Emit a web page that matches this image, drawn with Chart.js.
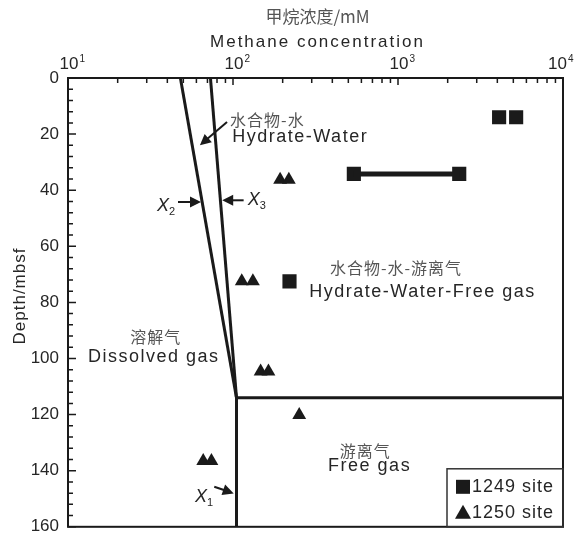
<!DOCTYPE html>
<html>
<head>
<meta charset="utf-8">
<script src="https://cdn.jsdelivr.net/npm/chart.js@4/dist/chart.umd.min.js"></script>
<style>
  html, body { margin: 0; padding: 0; background: #fff; }
  canvas { display: block; }
</style>
</head>
<body>
<canvas id="chart" width="576" height="546"></canvas>
<script>
(function(){
    'use strict';

    // data (concentration in mM, depth in mbsf)
    const site1249Conc = [4100, 5200, 540, 2350, 220];
    const site1249Depth = [14, 14, 34.2, 34.2, 72.5];
    const site1250Conc = [193, 218, 113, 132, 147, 164, 252, 66, 74];
    const site1250Depth = [36.3, 36.3, 72.5, 72.5, 104.6, 104.6, 120.1, 136.5, 136.5];
    const rangeConc = [540, 2350];
    const rangeDepth = [34.2, 34.2];

    // phase boundaries
    const x2Conc = [48, 105];
    const x2Depth = [0, 114];
    const x3Conc = [73, 105];
    const x3Depth = [0, 114];
    const x1Conc = [105, 105];
    const x1Depth = [114, 160];
    const baseConc = [105, 10000];
    const baseDepth = [114, 114];

    const xTicks = [10, 100, 1000, 10000];
    const xTickExp = ['1', '2', '3', '4'];
    const yMax = 160;

    const ink = '#1a1a1a';
    const textColor = '#262626';
    const cjkColor = '#555';
    const latin = '"Liberation Sans", Arial, sans-serif';
    const cjk = '"Noto Sans CJK SC", sans-serif';

    function pts(xs, ys){
        return xs.map(function(x, i){ return {x: x, y: ys[i]}; });
    }

    // annotation text anchored in data coordinates (left edge, middle)
    const notes = [
        {text: '水合物-水', conc: 96, depth: 15.0, cjk: true},
        {text: 'Hydrate-Water', conc: 99, depth: 20.9},
        {text: '水合物-水-游离气', conc: 387, depth: 67.6, cjk: true},
        {text: 'Hydrate-Water-Free gas', conc: 290, depth: 76.3},
        {text: '溶解气', conc: 23.8, depth: 92.4, cjk: true},
        {text: 'Dissolved gas', conc: 13.2, depth: 99.3},
        {text: '游离气', conc: 444, depth: 133.1, cjk: true},
        {text: 'Free gas', conc: 377, depth: 138.4}
    ];
    const arrows = [
        [92, 15.7, 63, 24.0],
        [46.4, 44.2, 64, 44.2],
        [116, 43.6, 86, 43.6],
        [77, 145.7, 101, 148.1]
    ];
    const xLabels = [
        {sub: '2', conc: 34.6, depth: 45.5},
        {sub: '3', conc: 123, depth: 43.6},
        {sub: '1', conc: 58.9, depth: 149.2}
    ];

    function arrow(ctx, x1, y1, x2, y2){
        const a = Math.atan2(y2 - y1, x2 - x1);
        const h = 11;
        ctx.beginPath();
        ctx.moveTo(x1, y1);
        ctx.lineTo(x2 - Math.cos(a) * h * 0.8, y2 - Math.sin(a) * h * 0.8);
        ctx.lineWidth = 2;
        ctx.stroke();
        ctx.beginPath();
        ctx.moveTo(x2, y2);
        ctx.lineTo(x2 - Math.cos(a) * h - Math.sin(a) * 5.5, y2 - Math.sin(a) * h + Math.cos(a) * 5.5);
        ctx.lineTo(x2 - Math.cos(a) * h + Math.sin(a) * 5.5, y2 - Math.sin(a) * h - Math.cos(a) * 5.5);
        ctx.closePath();
        ctx.fill();
    }

    const decor = {
        id: 'decor',
        afterDraw: function(chart){
            const ctx = chart.ctx;
            const a = chart.chartArea;
            const xs = chart.scales.x;
            const ys = chart.scales.y;
            ctx.save();
            ctx.strokeStyle = ink;
            ctx.fillStyle = ink;

            // frame
            ctx.lineWidth = 2;
            ctx.strokeRect(a.left, a.top, a.right - a.left, a.bottom - a.top);

            // inward ticks
            ctx.lineWidth = 1.5;
            ctx.beginPath();
            for (let d = 10; d < 10000; d *= 10){
                for (let m = 1; m < 10; m++){
                    const px = xs.getPixelForValue(m * d);
                    const len = m === 1 ? 7 : 5;
                    ctx.moveTo(px, a.top);
                    ctx.lineTo(px, a.top + len);
                }
            }
            for (let v = 0; v <= yMax; v += 4){
                const py = ys.getPixelForValue(v);
                const len = v % 20 === 0 ? 8 : 5;
                ctx.moveTo(a.left, py);
                ctx.lineTo(a.left + len, py);
            }
            ctx.stroke();

            // x tick labels 10^n
            ctx.fillStyle = textColor;
            ctx.textBaseline = 'middle';
            ctx.textAlign = 'left';
            xTicks.forEach(function(v, i){
                let px = xs.getPixelForValue(v);
                ctx.font = '17px ' + latin;
                const w = ctx.measureText('10').width;
                let left = px + 1 - w / 2;
                if (left + w + 7 > chart.width - 2) left = chart.width - 2 - w - 7;
                ctx.fillText('10', left, a.top - 14);
                ctx.font = '10px ' + latin;
                ctx.fillText(xTickExp[i], left + w + 1, a.top - 19);
            });

            // axis titles
            ctx.textAlign = 'center';
            ctx.fillStyle = cjkColor;
            ctx.font = '17px ' + cjk;
            ctx.fillText('甲烷浓度/mM', (a.left + a.right) / 2 + 2, 17);
            ctx.fillStyle = textColor;
            ctx.font = '17px ' + latin;
            ctx.letterSpacing = '2px';
            ctx.fillText('Methane concentration', (a.left + a.right) / 2 + 2, 42);
            ctx.letterSpacing = '1px';
            ctx.save();
            ctx.translate(20, 296);
            ctx.rotate(-Math.PI / 2);
            ctx.fillText('Depth/mbsf', 0, 0);
            ctx.restore();

            // region notes
            ctx.textAlign = 'left';
            notes.forEach(function(n){
                const px = xs.getPixelForValue(n.conc);
                const py = ys.getPixelForValue(n.depth);
                if (n.cjk){
                    ctx.letterSpacing = '1px';
                    ctx.font = '16px ' + cjk;
                    ctx.fillStyle = cjkColor;
                } else {
                    ctx.letterSpacing = '1.5px';
                    ctx.font = '18px ' + latin;
                    ctx.fillStyle = textColor;
                }
                ctx.fillText(n.text, px, py);
            });
            ctx.letterSpacing = '0px';

            // boundary labels X1..X3
            xLabels.forEach(function(l){
                const px = xs.getPixelForValue(l.conc);
                const py = ys.getPixelForValue(l.depth);
                ctx.fillStyle = textColor;
                ctx.font = 'italic 18px ' + latin;
                ctx.fillText('X', px, py);
                const w = ctx.measureText('X').width;
                ctx.font = '11px ' + latin;
                ctx.fillText(l.sub, px + w, py + 6);
            });

            // arrows
            ctx.fillStyle = ink;
            arrows.forEach(function(r){
                arrow(ctx, xs.getPixelForValue(r[0]), ys.getPixelForValue(r[1]),
                    xs.getPixelForValue(r[2]), ys.getPixelForValue(r[3]));
            });

            // legend box
            const lx = a.right - 116;
            const ly = a.bottom - 58;
            ctx.lineWidth = 1.5;
            ctx.strokeStyle = '#333';
            ctx.strokeRect(lx, ly, 116, 58);
            ctx.fillStyle = ink;
            ctx.fillRect(lx + 9, ly + 11, 14, 14);
            ctx.beginPath();
            ctx.moveTo(lx + 16, ly + 36);
            ctx.lineTo(lx + 24, ly + 50);
            ctx.lineTo(lx + 8, ly + 50);
            ctx.closePath();
            ctx.fill();
            ctx.fillStyle = textColor;
            ctx.font = '18px ' + latin;
            ctx.letterSpacing = '1px';
            ctx.textAlign = 'left';
            ctx.fillText('1249 site', lx + 25, ly + 18);
            ctx.fillText('1250 site', lx + 25, ly + 44);
            ctx.restore();
        }
    };

    function boundary(xs, ys){
        return {
            data: pts(xs, ys),
            showLine: true,
            borderColor: ink,
            borderWidth: 3,
            pointRadius: 0
        };
    }

    new Chart(document.querySelector('#chart'), {
        type: 'scatter',
        data: {
            datasets: [
                boundary(x2Conc, x2Depth),
                boundary(x3Conc, x3Depth),
                boundary(x1Conc, x1Depth),
                boundary(baseConc, baseDepth),
                {
                    data: pts(rangeConc, rangeDepth),
                    showLine: true,
                    borderColor: ink,
                    borderWidth: 5,
                    pointRadius: 0
                },
                {
                    label: '1249 site',
                    data: pts(site1249Conc, site1249Depth),
                    pointStyle: 'rect',
                    pointRadius: 10,
                    backgroundColor: ink,
                    borderColor: ink,
                    borderWidth: 0
                },
                {
                    label: '1250 site',
                    data: pts(site1250Conc, site1250Depth),
                    pointStyle: 'triangle',
                    pointRadius: 8,
                    backgroundColor: ink,
                    borderColor: ink,
                    borderWidth: 0
                }
            ]
        },
        options: {
            responsive: false,
            animation: false,
            layout: {padding: {left: 0, right: 13, top: 0, bottom: 9}},
            plugins: {
                legend: {display: false},
                tooltip: {enabled: false}
            },
            scales: {
                x: {
                    type: 'logarithmic',
                    position: 'top',
                    min: 10,
                    max: 10000,
                    grid: {display: false, drawTicks: false},
                    border: {display: false},
                    ticks: {display: false},
                    afterFit: function(s){ s.height = 78; }
                },
                y: {
                    reverse: true,
                    min: 0,
                    max: yMax,
                    grid: {display: false, drawTicks: false},
                    border: {display: false},
                    ticks: {
                        stepSize: 20,
                        padding: 9,
                        color: textColor,
                        font: {family: 'Liberation Sans', size: 17}
                    },
                    afterFit: function(s){ s.width = 68; }
                }
            }
        },
        plugins: [decor]
    });
})();
</script>
</body>
</html>
